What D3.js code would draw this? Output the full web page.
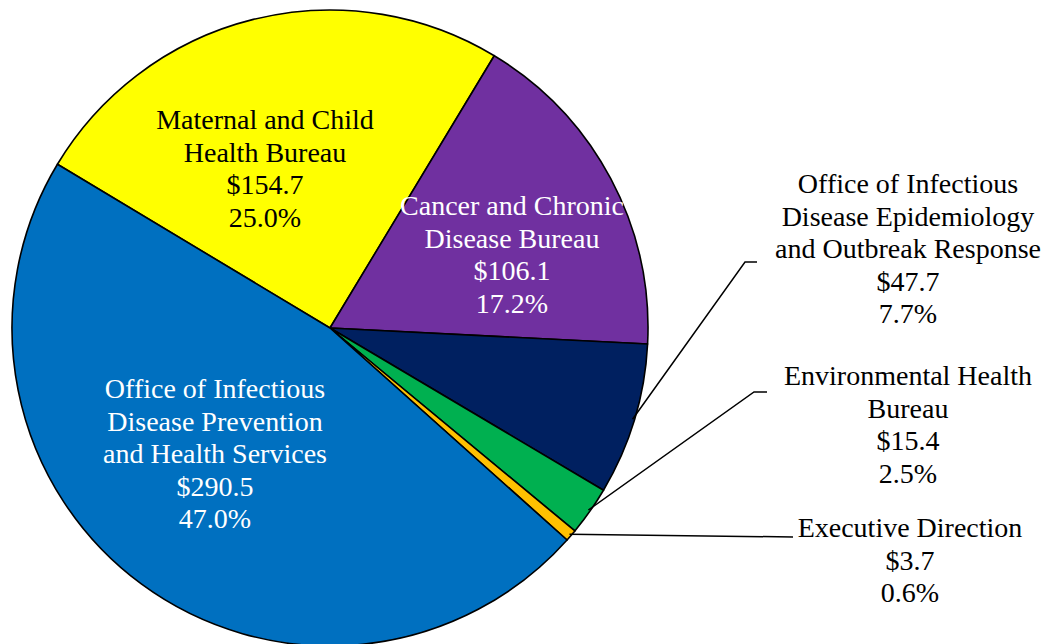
<!DOCTYPE html>
<html>
<head>
<meta charset="utf-8">
<script src="https://cdn.jsdelivr.net/npm/d3@7"></script>
<style>
  html, body { margin: 0; padding: 0; background: #fff; }
  svg { display: block; }
  text { font-family: "Liberation Serif", "Times New Roman", serif; font-size: 28px; }
</style>
</head>
<body>
<svg id="chart" width="1047" height="644"></svg>
<script>
// Budget by division (millions of dollars)
const categories = [
  "Maternal and Child\nHealth Bureau",
  "Cancer and Chronic\nDisease Bureau",
  "Office of Infectious\nDisease Epidemiology\nand Outbreak Response",
  "Environmental Health\nBureau",
  "Executive Direction",
  "Office of Infectious\nDisease Prevention\nand Health Services"
];
const values = [154.7, 106.1, 47.7, 15.4, 3.7, 290.5];
const colors = ["#FFFF00", "#7030A0", "#002060", "#00B050", "#FFC000", "#0070C0"];
const textColors = ["#000", "#fff", "#000", "#000", "#000", "#fff"];
// Labels placed inside the slice or outside with a leader line
const labelInside = [true, true, false, false, false, true];

const svg = d3.select("#chart");
const cx = 330, cy = 328, R = 318;
const total = d3.sum(values);

const data = values.map((v, i) => ({
  name: categories[i], value: v, color: colors[i],
  textColor: textColors[i], inside: labelInside[i]
}));

const start = -59.0 * Math.PI / 180;
const pie = d3.pie().sort(null).value(d => d.value)
  .startAngle(start).endAngle(start + 2 * Math.PI);
const arcs = pie(data);
const arc = d3.arc().innerRadius(0).outerRadius(R);

const g = svg.append("g").attr("transform", `translate(${cx},${cy})`);

g.selectAll("path.slice").data(arcs).enter().append("path")
  .attr("class", "slice")
  .attr("d", arc)
  .attr("fill", d => d.data.color)
  .attr("stroke", "#000")
  .attr("stroke-width", 1.6)
  .attr("stroke-linejoin", "round");

// Label text blocks: name lines, dollar value, percent
const lineH = 32.5;
function labelLines(d) {
  const pct = (d.data.value / total * 100).toFixed(1) + "%";
  return d.data.name.split("\n").concat(["$" + d.data.value.toFixed(1), pct]);
}

// Positions of label blocks (center x, first baseline y) in page coordinates
const insidePos = { 0: [265, 129], 1: [512, 215], 5: [215, 398] };
const outsidePos = { 2: [908, 193], 3: [908, 385], 4: [910, 537] };
// Leader line bends (elbow point and end of the horizontal tick)
const leaderBends = {
  2: [[745, 262], [757, 262]],
  3: [[754, 392], [767, 392]],
  4: [[793, 537]]
};

const labels = svg.append("g");
arcs.forEach((d, i) => {
  const pos = d.data.inside ? insidePos[i] : outsidePos[i];
  const t = labels.append("text")
    .attr("text-anchor", "middle")
    .attr("fill", d.data.textColor);
  labelLines(d).forEach((line, k) => {
    t.append("tspan").attr("x", pos[0]).attr("y", pos[1] + k * lineH).text(line);
  });

  if (!d.data.inside) {
    const mid = (d.startAngle + d.endAngle) / 2;
    const r0 = R - 2;
    const p0 = [cx + r0 * Math.sin(mid), cy - r0 * Math.cos(mid)];
    const pts = [p0].concat(leaderBends[i]);
    labels.append("path")
      .attr("d", d3.line()(pts))
      .attr("fill", "none")
      .attr("stroke", "#000")
      .attr("stroke-width", 1.5);
  }
});
</script>
</body>
</html>
